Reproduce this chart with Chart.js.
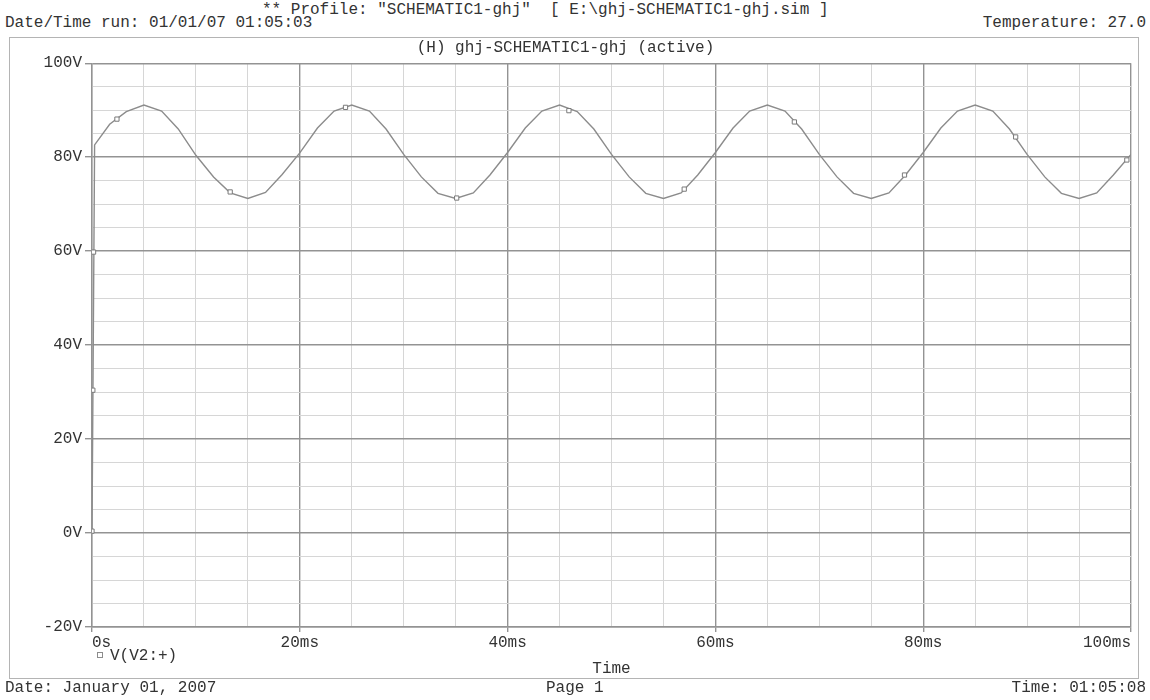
<!DOCTYPE html>
<html>
<head>
<meta charset="utf-8">
<script src="https://cdn.jsdelivr.net/npm/chart.js@4/dist/chart.umd.min.js"></script>
<style>
  html, body { margin: 0; padding: 0; background: #fff; }
  body { width: 1150px; height: 700px; position: relative; overflow: hidden;
         font-family: "Liberation Mono", "DejaVu Sans Mono", monospace; color: #333; }
  .txt { position: absolute; font-size: 16px; line-height: 16px; white-space: pre; }
  #frame { position: absolute; left: 9px; top: 37px; width: 1128px; height: 640px;
           border: 1px solid #b4b4b4; }
  #wrap { position: absolute; left: 0; top: 0; width: 1150px; height: 700px; }
</style>
</head>
<body>
<div class="txt" style="left:262px; top:2px;">** Profile: "SCHEMATIC1-ghj"  [ E:\ghj-SCHEMATIC1-ghj.sim ]</div>
<div class="txt" style="left:5px; top:15px;">Date/Time run: 01/01/07 01:05:03</div>
<div class="txt" style="right:4px; top:15px;">Temperature: 27.0</div>
<div id="frame"></div>
<div id="wrap"><canvas id="c"></canvas></div>
<div class="txt" style="left:5px; top:680px;">Date: January 01, 2007</div>
<div class="txt" style="left:546px; top:680px;">Page 1</div>
<div class="txt" style="right:4px; top:680px;">Time: 01:05:08</div>
<script>
// ---- data ----
const seriesLabel = 'V(V2:+)';
const timeMs = [
  0, 0.25, 1.7, 3.3, 5, 6.7, 8.3, 10, 11.7, 13.3, 15, 16.7, 18.3,
  20, 21.7, 23.3, 25, 26.7, 28.3, 30, 31.7, 33.3, 35, 36.7, 38.3,
  40, 41.7, 43.3, 45, 46.7, 48.3, 50, 51.7, 53.3, 55, 56.7, 58.3,
  60, 61.7, 63.3, 65, 66.7, 68.3, 70, 71.7, 73.3, 75, 76.7, 78.3,
  80, 81.7, 83.3, 85, 86.7, 88.3, 90, 91.7, 93.3, 95, 96.7, 98.3, 100
];
const voltage = [
  0, 82.6, 87.0, 89.7, 91.1, 89.8, 86.0, 80.4, 75.8, 72.4, 71.2, 72.5, 76.3,
  80.9, 86.2, 89.8, 91.1, 89.8, 86.0, 80.6, 75.8, 72.3, 71.2, 72.4, 76.2,
  81.0, 86.2, 89.8, 91.1, 89.7, 86.0, 80.6, 75.8, 72.3, 71.2, 72.4, 76.2,
  81.0, 86.2, 89.8, 91.1, 89.8, 86.0, 80.6, 75.8, 72.3, 71.2, 72.4, 76.2,
  81.0, 86.2, 89.8, 91.1, 89.8, 86.0, 80.6, 75.8, 72.3, 71.2, 72.4, 76.2, 80.6
];
const markerTimeMs = [0, 0.08, 0.15, 2.4, 13.3, 24.4, 35.1, 45.9, 57.0, 67.6, 78.2, 88.9, 99.6];
const markerVoltage = [0.4, 30.4, 59.8, 88.1, 72.6, 90.6, 71.3, 89.9, 73.2, 87.5, 76.2, 84.3, 79.4];
const xTickLabels = { 0: '0s', 20: '20ms', 40: '40ms', 60: '60ms', 80: '80ms', 100: '100ms' };
const yTickLabels = { '-20': '-20V', 0: '0V', 20: '20V', 40: '40V', 60: '60V', 80: '80V', 100: '100V' };
const chartTitle = '(H) ghj-SCHEMATIC1-ghj (active)';
const xAxisTitle = 'Time';

// ---- chart ----
const MAJOR = '#939393', MINOR = '#d6d6d6', LINE = '#8c8c8c';
Chart.defaults.font.family = '"Liberation Mono", "DejaVu Sans Mono", monospace';
Chart.defaults.font.size = 16;
Chart.defaults.color = '#333';

const isMajor = (c) => c.tick && Math.abs(c.tick.value % 20) < 1e-6;

const legendPlugin = {
  id: 'probeLegend',
  afterDraw(chart) {
    const { ctx, chartArea } = chart;
    const ds = chart.data.datasets[0];
    const y = chartArea.bottom + 28;
    const x = chartArea.left + 5;
    ctx.save();
    ctx.strokeStyle = ds.borderColor;
    ctx.lineWidth = 1;
    ctx.strokeRect(x + 0.5, y - 2.5, 5, 5);
    ctx.fillStyle = '#333';
    ctx.font = '16px "Liberation Mono", monospace';
    ctx.textBaseline = 'middle';
    ctx.fillText(ds.label, x + 13, y + 1);
    ctx.restore();
  }
};

new Chart(document.getElementById('c'), {
  type: 'line',
  data: {
    datasets: [
      {
        label: seriesLabel,
        data: timeMs.map((t, i) => ({ x: t, y: voltage[i] })),
        borderColor: LINE,
        borderWidth: 1.4,
        pointRadius: 0,
        tension: 0,
        order: 2
      },
      {
        label: 'markers',
        data: markerTimeMs.map((t, i) => ({ x: t, y: markerVoltage[i] })),
        showLine: false,
        pointStyle: 'rect',
        pointRadius: 3,
        borderColor: '#7a7a7a',
        backgroundColor: '#ffffff',
        borderWidth: 1,
        order: 1
      }
    ]
  },
  options: {
    responsive: true,
    maintainAspectRatio: false,
    animation: false,
    events: [],
    layout: { padding: { top: 38, left: 0, right: 19, bottom: 0 } },
    plugins: {
      legend: { display: false },
      tooltip: { enabled: false },
      title: {
        display: true,
        text: chartTitle,
        font: { size: 16, weight: 'normal' },
        color: '#333',
        padding: { top: 0, bottom: 6 }
      }
    },
    scales: {
      x: {
        type: 'linear',
        min: 0, max: 100,
        afterFit(s) { s.height = 73; },
        title: { display: true, text: xAxisTitle, padding: { top: 4, bottom: 22 }, color: '#333' },
        ticks: {
          stepSize: 5, autoSkip: false, maxRotation: 0, align: 'inner', padding: 1,
          callback: (v) => xTickLabels[v] !== undefined ? xTickLabels[v] : ''
        },
        grid: {
          color: (c) => isMajor(c) ? MAJOR : MINOR,
          lineWidth: (c) => isMajor(c) ? 1.4 : 1,
          tickColor: (c) => isMajor(c) ? MAJOR : 'rgba(0,0,0,0)',
          tickLength: 5
        },
        border: { color: MAJOR, width: 1.4 }
      },
      y: {
        type: 'linear',
        min: -20, max: 100,
        afterFit(s) { s.width = 92; },
        ticks: {
          stepSize: 5, autoSkip: false, padding: 3,
          callback: (v) => yTickLabels[v] !== undefined ? yTickLabels[v] : ''
        },
        grid: {
          color: (c) => isMajor(c) ? MAJOR : MINOR,
          lineWidth: (c) => isMajor(c) ? 1.4 : 1,
          tickColor: (c) => isMajor(c) ? MAJOR : 'rgba(0,0,0,0)',
          tickLength: 7
        },
        border: { color: MAJOR, width: 1.4 }
      }
    }
  },
  plugins: [legendPlugin]
});
</script>
</body>
</html>
